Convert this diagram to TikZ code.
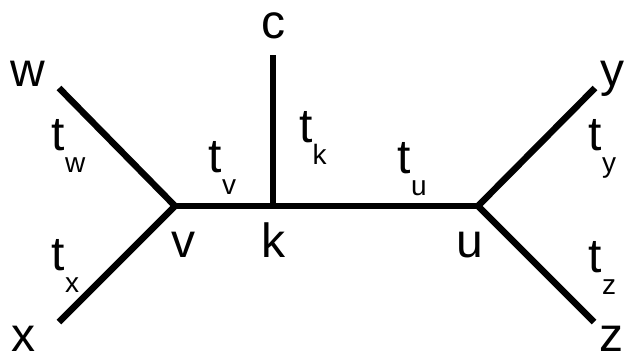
\documentclass[tikz,border=0pt]{standalone}
\usepackage{fontspec}
\setmainfont{Liberation Sans}
\newcommand{\bigfnt}{\fontsize{48}{48}\selectfont}
\newcommand{\subfnt}{\fontsize{28}{28}\selectfont}
\newcommand{\tlab}[1]{t\raisebox{-22pt}{\subfnt #1}}
\begin{document}
\begin{tikzpicture}[x=1pt,y=-1pt,
  edge/.style={line width=6.5pt,line cap=butt,line join=miter},
  lbl/.style={font=\bigfnt,inner sep=0pt,anchor=base},
  tl/.style={font=\bigfnt,inner sep=0pt,anchor=base west}]
\useasboundingbox (0,0) rectangle (625,360);
% tree vertices
\coordinate (v) at (175,206);
\coordinate (k) at (273,206);
\coordinate (u) at (478,206);
\coordinate (w) at (59,88);
\coordinate (x) at (59,322);
\coordinate (c) at (273,55);
\coordinate (y) at (595,88);
\coordinate (z) at (594,322);
% edges
\draw[edge] (w) -- (v) -- (x);
\draw[edge] (v) -- (u);
\draw[edge] (c) -- (k);
\draw[edge] (y) -- (u) -- (z);
% vertex labels
\node[lbl] (lw) at (28,86) {w};
\node[lbl,text depth=0pt] (lx) at (24,351) {x};
\node[lbl] (lc) at (273,38) {c};
\node[lbl] (ly) at (612,86) {y};
\node[lbl,text depth=0pt] (lz) at (611,351) {z};
\node[lbl] (lv) at (183,257) {v};
\node[lbl] (lk) at (273,257) {k};
\node[lbl] (lu) at (470,257) {u};
% branch length labels
\node[tl] (tw) at (51.5,150) {\tlab{w}};
\node[tl] (tx) at (51.5,270) {\tlab{x}};
\node[tl] (tv) at (208.5,172) {\tlab{v}};
\node[tl] (tk) at (299,142) {\tlab{k}};
\node[tl] (tu) at (397.5,173) {\tlab{u}};
\node[tl] (ty) at (588.5,150) {\tlab{y}};
\node[tl] (tz) at (588.5,272) {\tlab{z}};
\end{tikzpicture}
\end{document}
